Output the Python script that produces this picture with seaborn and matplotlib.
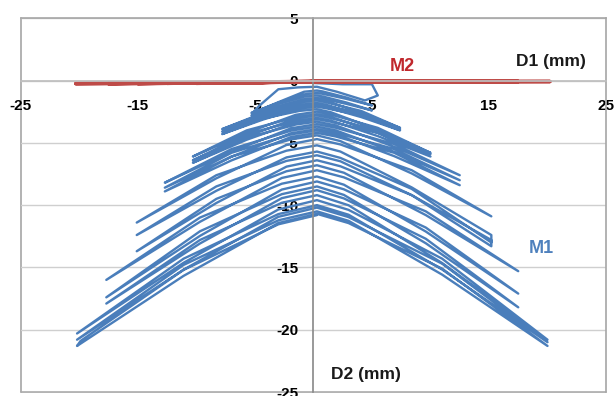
import matplotlib
matplotlib.use("Agg")
import matplotlib.pyplot as plt
import seaborn as sns
import pandas as pd

# ------------------------------------------------------------
# M1 : trajet D1 / D2, un bloc par amplitude
# (3 cycles par amplitude, passage par le sommet vers D1 = 0)
# ------------------------------------------------------------
m1_a5_d1 = [0.0, 2.5, 5.0, 5.5, 4.4, 2.0, 0.3, -1.3, -3.0, -4.6, -5.2, -2.9, -0.8, 0.3,
            0.8, 2.8, 5.0, 2.8, 0.8, 0.3, -0.8, -2.9, -5.3, -2.9, -0.8, 0.3,
            0.8, 2.8, 5.0, 2.8, 0.8, 0.3, -0.8, -2.9, -5.3, -2.9, -0.8, 0.3]
m1_a5_d2 = [-0.2, -0.3, -0.3, -1.2, -1.6, -0.9, -0.5, -0.55, -0.7, -2.0, -2.6, -1.7, -0.9, -0.8,
            -0.88, -1.36, -2.0, -1.47, -1.07, -1.0, -1.11, -1.75, -2.6, -1.86, -1.3, -1.2,
            -1.28, -1.76, -2.4, -1.87, -1.47, -1.4, -1.5, -2.06, -2.8, -2.11, -1.59, -1.5]

m1_a7_d1 = [1.1, 4.1, 7.4, 4.1, 1.1, 0.3, -1.2, -4.3, -7.8, -4.3, -1.2, 0.3,
            1.1, 4.1, 7.4, 4.1, 1.1, 0.3, -1.2, -4.3, -7.8, -4.3, -1.2, 0.3,
            1.1, 4.1, 7.4, 4.1, 1.1, 0.3, -1.2, -4.3, -7.8, -4.3, -1.2, 0.3]
m1_a7_d2 = [-1.66, -2.58, -3.8, -2.45, -1.75, -1.6, -1.76, -2.68, -3.9, -2.6, -1.95, -1.8,
            -1.95, -2.79, -3.9, -2.65, -2.04, -1.9, -2.05, -2.93, -4.1, -2.8, -2.15, -2.0,
            -2.14, -2.94, -4.0, -2.8, -2.23, -2.1, -2.25, -3.13, -4.3, -3.05, -2.44, -2.3]

m1_a10_d1 = [1.5, 5.5, 10.0, 5.5, 1.5, 0.3, -1.5, -5.7, -10.3, -5.7, -1.5, 0.3,
             1.5, 5.5, 10.0, 5.5, 1.5, 0.3, -1.5, -5.7, -10.3, -5.7, -1.5, 0.3,
             1.5, 5.5, 10.0, 5.5, 1.5, 0.3, -1.5, -5.7, -10.3, -5.7, -1.5, 0.3]
m1_a10_d2 = [-2.55, -3.95, -5.8, -3.8, -2.73, -2.5, -2.75, -4.19, -6.1, -4.0, -2.94, -2.7,
             -2.92, -4.2, -5.9, -4.0, -3.02, -2.8, -3.05, -4.49, -6.4, -4.3, -3.24, -3.0,
             -3.22, -4.46, -6.1, -4.2, -3.31, -3.1, -3.35, -4.75, -6.6, -4.6, -3.53, -3.3]

m1_a12_d1 = [1.9, 6.9, 12.5, 6.9, 1.9, 0.3, -1.9, -7.0, -12.7, -7.0, -1.9, 0.3,
             1.9, 6.9, 12.5, 6.9, 1.9, 0.3, -1.9, -7.0, -12.7, -7.0, -1.9, 0.3,
             1.9, 6.9, 12.5, 6.9, 1.9, 0.3, -1.9, -7.0, -12.7, -7.0, -1.9, 0.3]
m1_a12_d2 = [-3.6, -5.32, -7.6, -5.1, -3.79, -3.5, -3.83, -5.71, -8.2, -5.5, -4.02, -3.7,
             -4.0, -5.72, -8.0, -5.5, -4.19, -3.9, -4.23, -6.11, -8.6, -5.8, -4.32, -4.0,
             -4.31, -6.07, -8.4, -5.8, -4.49, -4.2, -4.53, -6.41, -8.9, -6.1, -4.72, -4.4]

m1_a15_d1 = [2.3, 8.4, 15.2, 8.4, 2.3, 0.3, -2.3, -8.3, -15.1, -8.3, -2.3, 0.3,
             2.3, 8.4, 15.2, 15.2, 8.4, 2.3, 0.3, -2.3, -8.3, -15.1, -8.3, -2.3, 0.3,
             2.3, 8.4, 15.2, 15.2, 8.4, 2.3, 0.3, -2.3, -8.3, -15.1, -8.3, -2.3, 0.3]
m1_a15_d2 = [-4.86, -7.46, -10.9, -7.2, -5.13, -4.7, -5.17, -7.85, -11.4, -7.6, -5.63, -5.2,
             -5.7, -8.58, -12.4, -13.0, -8.7, -6.21, -5.7, -6.17, -8.85, -12.4, -8.5, -6.45, -6.0,
             -6.48, -9.2, -12.8, -13.3, -9.2, -6.88, -6.4, -6.91, -9.83, -13.7, -9.5, -7.28, -6.8]

m1_a17_d1 = [2.6, 9.6, 17.5, 9.6, 2.6, 0.3, -2.7, -9.7, -17.7, -9.7, -2.7, 0.3,
             2.6, 9.6, 17.5, 9.6, 2.6, 0.3, -2.7, -9.7, -17.7, -9.7, -2.7, 0.3,
             2.6, 9.6, 17.5, 9.6, 2.6, 0.3, -2.7, -9.7, -17.7, -9.7, -2.7, 0.3]
m1_a17_d2 = [-7.4, -10.8, -15.3, -10.5, -7.77, -7.2, -7.82, -11.34, -16.0, -11.0, -8.28, -7.7,
             -8.36, -12.12, -17.1, -11.8, -8.73, -8.1, -8.75, -12.47, -17.4, -12.1, -9.12, -8.5,
             -9.18, -13.06, -18.2, -12.7, -9.46, -8.8, -9.44, -13.08, -17.9, -12.8, -9.81, -9.2]

m1_a20_d1 = [3.0, 11.0, 20.0, 11.0, 3.0, 0.3, -3.0, -11.1, -20.2, -11.1, -3.0, 0.3,
             3.0, 11.0, 20.0, 11.0, 3.0, 0.3, -3.0, -11.1, -20.2, -11.1, -3.0, 0.3,
             3.0, 11.0, 20.0, 11.0, 3.0, 0.3, -3.0, -11.1, -20.2, -19.9, -11.1, -3.0, 0.3]
m1_a20_d2 = [-10.01, -14.65, -20.8, -14.3, -10.38, -9.6, -10.35, -14.63, -20.3, -14.3, -10.72, -10.0,
             -10.77, -15.17, -21.0, -14.7, -10.96, -10.2, -10.94, -15.18, -20.8, -14.8, -11.22, -10.5,
             -11.26, -15.58, -21.3, -15.1, -11.44, -10.7, -11.44, -15.68, -21.3, -20.9, -15.2, -11.54, -10.8]

# M2 : quasi nul en D2
m2_d1 = [0.0, 5.0, 0.0, -5.0, 0.0, 7.5, 0.0, -7.5, 0.0, 10.0, 0.0, -10.0, 0.0, 12.5, 0.0,
         -12.5, 0.0, 15.0, 0.0, -15.0, 0.0, 17.5, 0.0, -17.5, 0.0, 20.2, 0.0, -20.3, 0.0]
m2_d2 = [-0.05, -0.05, -0.08, -0.12, -0.08, -0.06, -0.08, -0.18, -0.1, -0.06, -0.1, -0.22, -0.1, -0.07, -0.1,
         -0.22, -0.1, -0.07, -0.1, -0.24, -0.1, -0.08, -0.1, -0.25, -0.1, -0.08, -0.1, -0.25, -0.1]

x_ticks = [-25, -15, -5, 5, 15, 25]
y_ticks = [-25, -20, -15, -10, -5, 0, 5]

BLUE = "#4A7EBB"
RED = "#BE4B48"

df_m1 = pd.DataFrame({
    "D1": m1_a5_d1 + m1_a7_d1 + m1_a10_d1 + m1_a12_d1 + m1_a15_d1 + m1_a17_d1 + m1_a20_d1,
    "D2": m1_a5_d2 + m1_a7_d2 + m1_a10_d2 + m1_a12_d2 + m1_a15_d2 + m1_a17_d2 + m1_a20_d2,
})
df_m2 = pd.DataFrame({"D1": m2_d1, "D2": m2_d2})

sns.set_theme(style="white")
plt.rcParams["font.family"] = ["Liberation Sans", "DejaVu Sans"]
plt.rcParams["font.weight"] = "bold"
plt.rcParams["axes.unicode_minus"] = False

fig, ax = plt.subplots(figsize=(6.14, 3.96), dpi=100)
fig.subplots_adjust(left=0.034, right=0.987, bottom=0.010, top=0.954)

sns.lineplot(data=df_m1, x="D1", y="D2", sort=False, estimator=None,
             color=BLUE, lw=1.7, ax=ax)
sns.lineplot(data=df_m2, x="D1", y="D2", sort=False, estimator=None,
             color=RED, lw=2.6, ax=ax)

ax.set_xlim(-25, 25)
ax.set_ylim(-25, 5)
ax.set_xticks(x_ticks)
ax.set_yticks(y_ticks)
ax.set_xlabel("")
ax.set_ylabel("")

# axes qui se croisent à l'origine, cadre gris autour
ax.spines["left"].set_position(("data", 0))
ax.spines["bottom"].set_position(("data", 0))
ax.spines["left"].set_color("#8C8C8C")
ax.spines["bottom"].set_color("#BFBFBF")
for s in ["top", "right"]:
    ax.spines[s].set_color("#A6A6A6")
    ax.spines[s].set_linewidth(1.2)
ax.axvline(-25, color="#A6A6A6", lw=1.2, clip_on=False, zorder=0)
ax.axhline(-25, color="#A6A6A6", lw=1.2, clip_on=False, zorder=0)
ax.yaxis.grid(True, color="#CFCFCF", lw=1.0)
ax.set_axisbelow(True)

ax.tick_params(axis="x", length=0, pad=13.5, labelsize=11, colors="black")
ax.tick_params(axis="y", length=4, width=1, pad=7, labelsize=11,
               direction="out", color="#8C8C8C", labelcolor="black")

ax.text(20.3, 1.55, "D1 (mm)", ha="center", va="center", fontsize=12.5, color="#1A1A1A")
ax.text(7.6, 1.15, "M2", ha="center", va="center", fontsize=13, color="#C0282D")
ax.text(19.5, -13.5, "M1", ha="center", va="center", fontsize=13, color="#4F81BD")
ax.text(4.5, -23.6, "D2 (mm)", ha="center", va="center", fontsize=12.5, color="#1A1A1A")

plt.savefig("out.png", dpi=100)
